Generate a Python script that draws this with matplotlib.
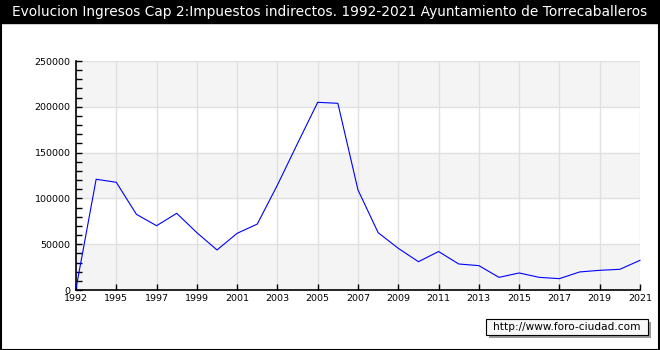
#!/usr/bin/env python

import numpy as np
import matplotlib.pyplot as plt
from matplotlib.patches import Rectangle

# years in the series (1993 is not there)
years = [1992] + list(range(1994, 2022))
ingresos = [1500, 120900, 117600, 82600, 70200, 83700, 62600, 43700, 61900,
            72000, 114600, 160100, 204900, 203800, 109200, 62600, 45500, 30900,
            42000, 28400, 26600, 13800, 18600, 13800, 12400, 19700, 21500,
            22600, 32400]
ticklabels = [str(y) for y in years[::2]]
title = "Evolucion Ingresos Cap 2:Impuestos indirectos. 1992-2021 Ayuntamiento de Torrecaballeros"

W, H = 660, 350
fig = plt.figure(figsize=(W / 100, H / 100), dpi=100)

# plot area in pixels
left, right, top, bottom = 76, 640, 61, 290
ax = fig.add_axes([left / W, 1 - bottom / H, (right - left) / W, (bottom - top) / H])

x = np.arange(len(years))
ax.set_xlim(0, len(years) - 1)
ax.set_ylim(0, 250000)

# alternating bands
for y0 in range(0, 250000, 100000):
    ax.axhspan(y0, y0 + 50000, color="#f4f4f4", zorder=0, lw=0)

ax.set_xticks(x[::2])
ax.set_xticklabels(ticklabels)
ax.set_yticks(np.arange(0, 250001, 50000))
ax.set_yticks(np.arange(0, 250001, 10000), minor=True)
ax.grid(True, which="major", color="#e0e0e0", lw=1, zorder=1)
ax.tick_params(which="both", direction="in", length=4, width=1, labelsize=6.8, pad=3)
ax.tick_params(axis="x", pad=3)
ax.tick_params(axis="y", pad=4)

for s in ["top", "right"]:
    ax.spines[s].set_visible(False)
for s in ["left", "bottom"]:
    ax.spines[s].set_linewidth(1.2)

ax.plot(x, ingresos, color="#0000ff", lw=0.8, zorder=3, clip_on=False)

# title bar and border
fig.patches.append(Rectangle((0, 1 - 23 / H), 1, 23 / H, transform=fig.transFigure,
                             color="black", zorder=0))
fig.patches.append(Rectangle((0.5 / W, 0.5 / H), (W - 2) / W, (H - 2) / H,
                             transform=fig.transFigure, fill=False, ec="black", lw=1.5))
fig.text(0.5, 1 - 12 / H, title, color="white", fontsize=9.9, ha="center", va="center")

# watermark
fig.patches.append(Rectangle((489 / W, 1 - 338 / H), 162 / W, 16 / H,
                             transform=fig.transFigure, fc="#999999", ec="none"))
fig.patches.append(Rectangle((486 / W, 1 - 335 / H), 162 / W, 16 / H,
                             transform=fig.transFigure, fc="#f8f8f8", ec="black", lw=0.8))
fig.text(567 / W, 1 - 327.5 / H, "http://www.foro-ciudad.com", fontsize=7.6,
         ha="center", va="center")

fig.savefig("out.png", dpi=100)
